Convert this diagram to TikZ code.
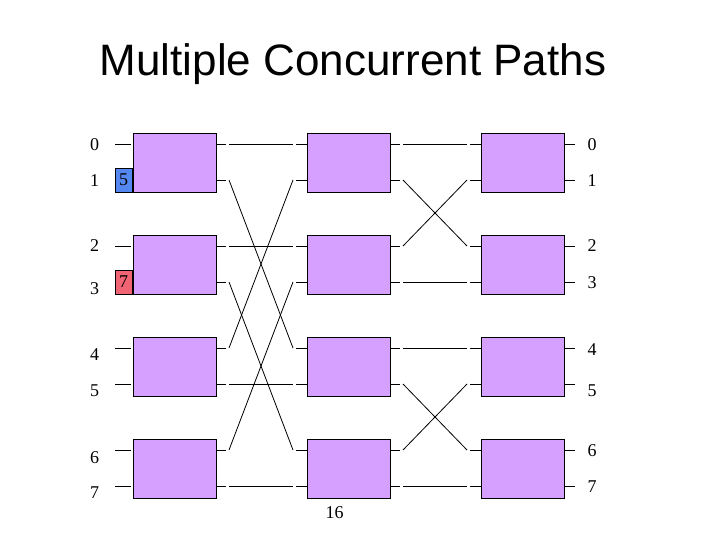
\documentclass[tikz,border=0pt]{standalone}
\usepackage{fontspec}
\setmainfont{Liberation Serif}
\newfontfamily\titlefont{Liberation Sans}
\definecolor{boxpurple}{RGB}{213,160,255}
\definecolor{tagblue}{RGB}{85,135,240}
\definecolor{tagred}{RGB}{240,100,115}
\tikzset{
  swbox/.style={draw=black, fill=boxpurple, line width=0.9pt, minimum width=83pt, minimum height=59pt, inner sep=0pt},
  tagbox/.style={draw=black, line width=0.9pt, minimum width=17pt, minimum height=24pt, inner sep=0pt, font=\fontsize{18}{20}\selectfont},
  wire/.style={line width=0.8pt, black},
  num/.style={font=\fontsize{18}{20}\selectfont, inner sep=0pt}
}
\begin{document}
\begin{tikzpicture}[x=1pt,y=-1pt]
\useasboundingbox (0,0) rectangle (720,540);
\fill[white] (0,0) rectangle (720,540);
\node[font=\titlefont\fontsize{44}{50}\selectfont, inner sep=0pt] (title) at (353,64) {Multiple Concurrent Paths};

% switch boxes
\foreach \c/\cx in {1/174.5,2/348.5,3/522.5}{
  \foreach \r in {0,1,2,3}{
    \node[swbox] (s\c\r) at (\cx,{162.5+102*\r}) {};
  }
}

% port coordinates and stubs
\foreach \k in {0,...,7}{
  \pgfmathsetmacro{\yy}{144+102*floor(\k/2)+36*mod(\k,2)}
  \coordinate (in\k) at (115,\yy);
  \coordinate (inE\k) at (131,\yy);
  \coordinate (oa\k) at (216.5,\yy);
  \coordinate (a\k) at (226,\yy);
  \coordinate (aa\k) at (229,\yy);
  \coordinate (bb\k) at (293,\yy);
  \coordinate (b\k) at (296,\yy);
  \coordinate (ib\k) at (307,\yy);
  \coordinate (oc\k) at (390.5,\yy);
  \coordinate (c\k) at (400,\yy);
  \coordinate (cc\k) at (403,\yy);
  \coordinate (dd\k) at (467,\yy);
  \coordinate (d\k) at (470,\yy);
  \coordinate (id\k) at (481,\yy);
  \coordinate (oe\k) at (564.5,\yy);
  \coordinate (e\k) at (575,\yy);
  \draw[wire] (in\k) -- (inE\k);
  \draw[wire] (oa\k) -- (a\k);
  \draw[wire] (b\k) -- (ib\k);
  \draw[wire] (oc\k) -- (c\k);
  \draw[wire] (d\k) -- (id\k);
  \draw[wire] (oe\k) -- (e\k);
}

% stage 1 -> 2 links
\foreach \p/\q in {0/0,1/4,2/2,3/6,4/1,5/5,6/3,7/7}{
  \draw[wire] (aa\p) -- (bb\q);
}
% stage 2 -> 3 links
\foreach \p/\q in {0/0,1/2,2/1,3/3,4/4,5/6,6/5,7/7}{
  \draw[wire] (cc\p) -- (dd\q);
}

% left labels
\foreach \k/\ly in {0/145,1/181,2/246,3/289,4/355,5/391,6/458,7/493}{
  \node[num] (L\k) at (94.5,\ly) {\k};
}
% right labels
\foreach \k/\ly in {0/145,1/181,2/246,3/283,4/350,5/391,6/451,7/487}{
  \node[num] (R\k) at (592,\ly) {\k};
}

% tags
\node[tagbox, fill=tagblue] (tag5) at (123.5,180) {5};
\node[tagbox, fill=tagred] (tag7) at (123.5,282) {7};

\node[num] (cnt) at (334.5,513) {16};
\end{tikzpicture}
\end{document}
